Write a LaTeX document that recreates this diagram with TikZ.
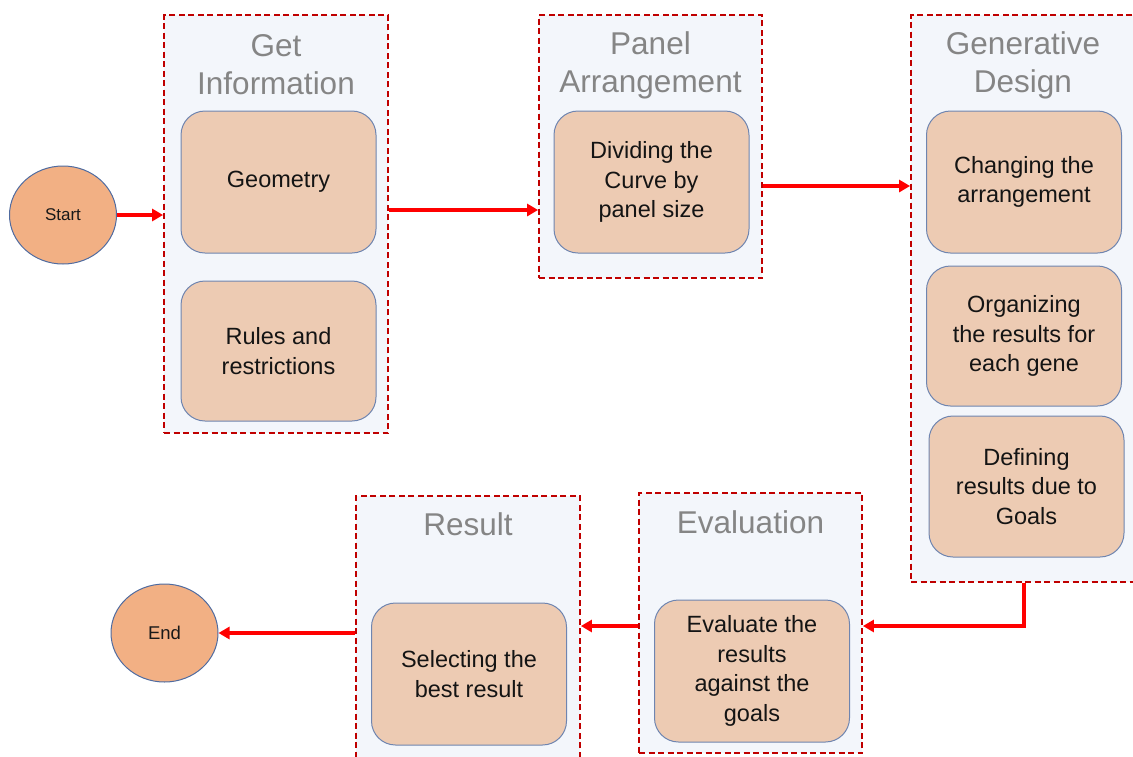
\documentclass[tikz,border=0pt]{standalone}
\usepackage{fontspec}
\setmainfont{Liberation Sans}
\usetikzlibrary{arrows.meta,shapes.geometric}
\definecolor{panelfill}{HTML}{F3F6FB}
\definecolor{panelline}{HTML}{C00000}
\definecolor{taskfill}{HTML}{EDCBB3}
\definecolor{taskline}{HTML}{6F85B0}
\definecolor{termfill}{HTML}{F2B084}
\definecolor{termline}{HTML}{4F6BA0}
\definecolor{titlegray}{HTML}{858585}
\definecolor{flowred}{HTML}{FF0000}
\tikzset{
  panel/.style={draw=panelline, fill=panelfill, line width=1.8pt,
    dash pattern=on 6pt off 3.5pt, rectangle, inner sep=0pt},
  paneltitle/.style={text=titlegray, font=\fontsize{31.5}{38}\selectfont,
    align=center, inner sep=0pt},
  task/.style={draw=taskline, fill=taskfill, line width=1pt,
    rounded corners=24pt, minimum width=195pt, minimum height=142pt,
    align=center, inner sep=0pt, text=black!92,
    font=\fontsize{23.5}{29.5}\selectfont},
  term/.style={draw=termline, fill=termfill, line width=1pt, ellipse,
    minimum width=107pt, minimum height=98pt, inner sep=0pt, text=black!90},
  flow/.style={draw=flowred, line width=3.2pt,
    -{Triangle[length=11pt,width=12pt]}},
}
\begin{document}
\begin{tikzpicture}[x=1pt,y=-1pt]
\useasboundingbox (0,0) rectangle (1133,756);
\begin{scope}
\clip (0,0) rectangle (1133,756);

% process panels
\node[panel, minimum width=224pt, minimum height=418pt] (gi) at (276,224) {};
\node[panel, minimum width=223pt, minimum height=263pt] (pa) at (650.5,146.5) {};
\node[panel, minimum width=226pt, minimum height=567pt] (gd) at (1024,298.5) {};
\node[panel, minimum width=223pt, minimum height=260pt] (ev) at (750.5,623) {};
\node[panel, minimum width=224pt, minimum height=294pt] (re) at (468,643) {};

% panel titles
\node[paneltitle] (gi-t) at (276,65) {Get\\Information};
\node[paneltitle] (pa-t) at (650.5,65) {Panel\\Arrangement};
\node[paneltitle] (gd-t) at (1023,65) {Generative\\Design};
\node[paneltitle] (ev-t) at (750.5,522) {Evaluation};
\node[paneltitle] (re-t) at (468,524) {Result};

% tasks
\node[task] (geo) at (278.5,182) {Geometry};
\node[task, minimum height=140pt] (rules) at (278.5,351) {Rules and\\restrictions};
\node[task] (div) at (651.5,182) {Dividing the\\Curve by\\panel size};
\node[task] (chg) at (1024,182) {Changing the\\arrangement};
\node[task, minimum height=140pt] (org) at (1024,336) {Organizing\\the results for\\each gene};
\node[task, minimum height=141pt] (def) at (1026.5,486.5) {Defining\\results due to\\Goals};
\node[task] (eva) at (752,671) {Evaluate the\\results\\against the\\goals};
\node[task] (sel) at (469,674) {Selecting the\\best result};

% start and end
\node[term, font=\fontsize{17}{20}\selectfont] (start) at (63,215) {Start};
\node[term, font=\fontsize{18.5}{20}\selectfont] (end) at (164.5,633) {End};

% flow
\draw[flow] (start.east) -- (start.east -| gi.west);
\draw[flow] ([yshift=14pt]gi.east) -- ([yshift=14pt]gi.east -| pa.west);
\draw[flow] ([yshift=-39.5pt]pa.east) -- ([yshift=-39.5pt]pa.east -| gd.west);
\draw[flow] (gd.south) |- ([yshift=-3pt]ev.east);
\draw[flow] ([yshift=-3pt]ev.west) -- ([yshift=-3pt]ev.west -| re.east);
\draw[flow] (end.east -| re.west) -- (end.east);
\end{scope}
\end{tikzpicture}
\end{document}
